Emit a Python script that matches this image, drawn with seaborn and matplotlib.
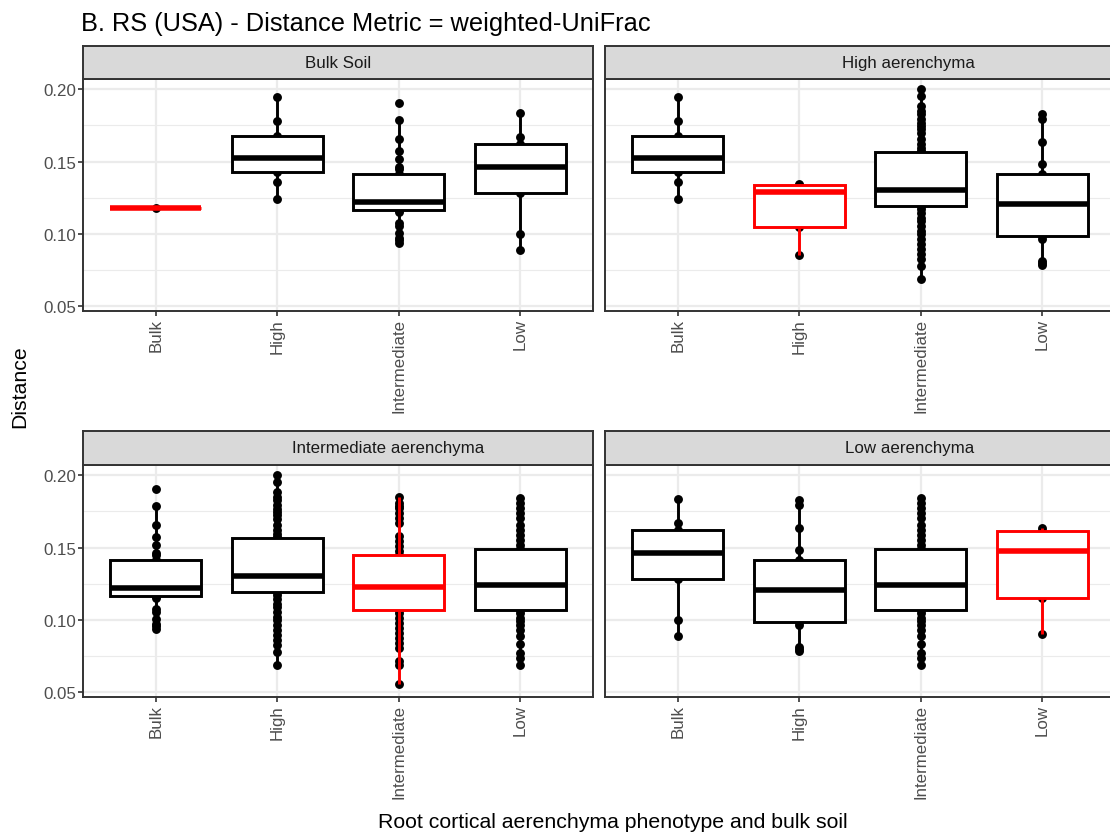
import numpy as np
import pandas as pd
import matplotlib
matplotlib.use("Agg")
import matplotlib.pyplot as plt
import seaborn as sns

# ---------------- data ----------------
panels = ["Bulk Soil", "High aerenchyma", "Intermediate aerenchyma", "Low aerenchyma"]
categories = ["Bulk", "High", "Intermediate", "Low"]

# pairwise distance groups (symmetric: panel X / group Y == panel Y / group X)
bulk_bulk = [0.1178]
bulk_high = [0.1238, 0.1358, 0.1430, 0.1475, 0.1522, 0.1600, 0.1677, 0.1781, 0.1949]
bulk_inter = [0.0939, 0.0960, 0.0973, 0.1008, 0.1054, 0.1077, 0.1151,
              0.1167, 0.1175, 0.1182, 0.1190, 0.1198, 0.1205, 0.1214,
              0.1222, 0.1245, 0.1270, 0.1300, 0.1330, 0.1360, 0.1390,
              0.1416, 0.1451, 0.1465, 0.1520, 0.1573, 0.1659, 0.1785, 0.1903]
bulk_low = [0.0886, 0.0997, 0.1285, 0.1370, 0.1462, 0.1540, 0.1619, 0.1670, 0.1839]
high_high = [0.0851, 0.1047, 0.1289, 0.1335, 0.1347]
high_inter = [0.0685, 0.0777, 0.0823, 0.0858, 0.0892, 0.0927, 0.0962, 0.0996,
              0.1019, 0.1054, 0.1088, 0.1112, 0.1146, 0.1169,
              0.1192, 0.1198, 0.1205, 0.1212, 0.1220, 0.1228, 0.1236, 0.1244,
              0.1252, 0.1260, 0.1268, 0.1277, 0.1286, 0.1295,
              0.1306, 0.1320, 0.1340, 0.1360, 0.1380, 0.1400, 0.1420, 0.1440,
              0.1460, 0.1480, 0.1500, 0.1520, 0.1540, 0.1555,
              0.1567, 0.1573, 0.1596, 0.1619, 0.1654, 0.1700, 0.1723, 0.1746,
              0.1769, 0.1792, 0.1827, 0.1850, 0.1885, 0.1954, 0.2003]
high_low = [0.0782, 0.0797, 0.0812, 0.0962, 0.0987, 0.1040, 0.1100, 0.1160,
            0.1208, 0.1260, 0.1320, 0.1380, 0.1416, 0.1485, 0.1638, 0.1797, 0.1827]
inter_inter = [0.0556, 0.0690, 0.0713, 0.0806, 0.0840, 0.0875, 0.0909, 0.0944,
               0.0979, 0.1013, 0.1048,
               0.1068, 0.1080, 0.1095, 0.1110, 0.1125, 0.1140, 0.1155, 0.1170,
               0.1185, 0.1200, 0.1212,
               0.1225, 0.1245, 0.1265, 0.1285, 0.1305, 0.1325, 0.1345, 0.1365,
               0.1385, 0.1405, 0.1430,
               0.1451, 0.1474, 0.1509, 0.1543, 0.1578, 0.1671, 0.1705, 0.1740,
               0.1774, 0.1790, 0.1810, 0.1848]
inter_low = [0.0690, 0.0736, 0.0771, 0.0829, 0.0886, 0.0932, 0.0967, 0.0990,
             0.1013, 0.1048,
             0.1066, 0.1082, 0.1100, 0.1118, 0.1136, 0.1154, 0.1172, 0.1190,
             0.1208, 0.1225,
             0.1241, 0.1265, 0.1290, 0.1315, 0.1340, 0.1365, 0.1390, 0.1415,
             0.1440, 0.1465,
             0.1489, 0.1520, 0.1555, 0.1590, 0.1624, 0.1659, 0.1705, 0.1740,
             0.1774, 0.1809, 0.1840]
low_low = [0.0898, 0.1151, 0.1474, 0.1617, 0.1636]

panel_groups = {
    "Bulk Soil": [bulk_bulk, bulk_high, bulk_inter, bulk_low],
    "High aerenchyma": [bulk_high, high_high, high_inter, high_low],
    "Intermediate aerenchyma": [bulk_inter, high_inter, inter_inter, inter_low],
    "Low aerenchyma": [bulk_low, high_low, inter_low, low_low],
}

rows = []
for pi, p in enumerate(panels):
    for ci, c in enumerate(categories):
        for v in panel_groups[p][ci]:
            rows.append({"panel": p, "group": c, "distance": v, "within": pi == ci})
df = pd.DataFrame(rows)

# ---------------- style ----------------
sns.set_theme(style="white")
plt.rcParams["font.family"] = ["Liberation Sans", "DejaVu Sans"]

W, H = 1110, 837
fig = plt.figure(figsize=(W / 100, H / 100), dpi=100)

pw = 510 / W
ph = 232 / H
lefts = [83 / W, 605 / W]
bottoms = [1 - 312 / H, 1 - 698 / H]
strip_tops = [47, 432]
strip_bottoms = [80, 466]
strip_xc = [0.5, 0.594, 0.598, 0.598]

border_c = "#333333"
grid_c = "#EBEBEB"
axis_txt = "#4D4D4D"

for pi, p in enumerate(panels):
    r, c = divmod(pi, 2)
    ax = fig.add_axes([lefts[c], bottoms[r], pw, ph])
    sub = df[df.panel == p]
    sns.stripplot(data=sub, x="group", y="distance", order=categories,
                  jitter=False, color="black", size=6.4, linewidth=0,
                  ax=ax, zorder=1)
    common = dict(x="group", y="distance", order=categories, color="white",
                  linewidth=2.1, width=0.75, showfliers=False, showcaps=False,
                  whis=1.5, medianprops=dict(linewidth=4.0), ax=ax)
    sns.boxplot(data=sub[~sub.within], linecolor="black", **common)
    sns.boxplot(data=sub[sub.within], linecolor="red", **common)

    ax.set_xlim(-0.6, 3.6)
    ax.set_ylim(0.0465, 0.2072)
    ax.set_xlabel("")
    ax.set_ylabel("")
    ax.set_facecolor("white")
    ax.set_axisbelow(True)
    ax.set_yticks([0.05, 0.10, 0.15, 0.20])
    ax.set_yticks([0.075, 0.125, 0.175], minor=True)
    ax.set_yticklabels(["0.05", "0.10", "0.15", "0.20"])
    ax.set_xticks(range(len(categories)))
    ax.set_xticklabels(categories, rotation=90, ha="center", va="top")
    ax.grid(True, which="major", axis="both", color=grid_c, linewidth=1.6)
    ax.grid(True, which="minor", axis="y", color=grid_c, linewidth=0.8)
    ax.tick_params(axis="both", which="major", length=3.6, width=1.2,
                   color=border_c, labelsize=12.2, labelcolor=axis_txt, pad=1.5,
                   bottom=True, left=True)
    ax.tick_params(axis="both", which="minor", length=0)
    if c == 1:
        ax.tick_params(axis="y", which="major", left=False, labelleft=False)
    for s in ax.spines.values():
        s.set_color(border_c)
        s.set_linewidth(1.4)
        s.set_visible(True)

    # strip
    sb = 1 - strip_bottoms[r] / H
    sh = (strip_bottoms[r] - strip_tops[r]) / H
    sax = fig.add_axes([lefts[c], sb, pw, sh])
    sax.set_facecolor("#D9D9D9")
    sax.set_xticks([])
    sax.set_yticks([])
    for s in sax.spines.values():
        s.set_color(border_c)
        s.set_linewidth(1.4)
        s.set_visible(True)
    sax.text(strip_xc[pi], 0.5, p, ha="center", va="center",
             fontsize=12.2, color="#1A1A1A", transform=sax.transAxes)

fig.text(81 / W, 1 - 31 / H, "B. RS (USA) - Distance Metric = weighted-UniFrac",
         ha="left", va="baseline", fontsize=18.3, color="black")
fig.text(20 / W, 1 - 387 / H, "Distance", rotation=90, ha="center", va="center",
         fontsize=15.3, color="black")
fig.text(613 / W, 1 - 823 / H, "Root cortical aerenchyma phenotype and bulk soil",
         ha="center", va="center", fontsize=15.3, color="black")

fig.savefig("out.png", dpi=100)
